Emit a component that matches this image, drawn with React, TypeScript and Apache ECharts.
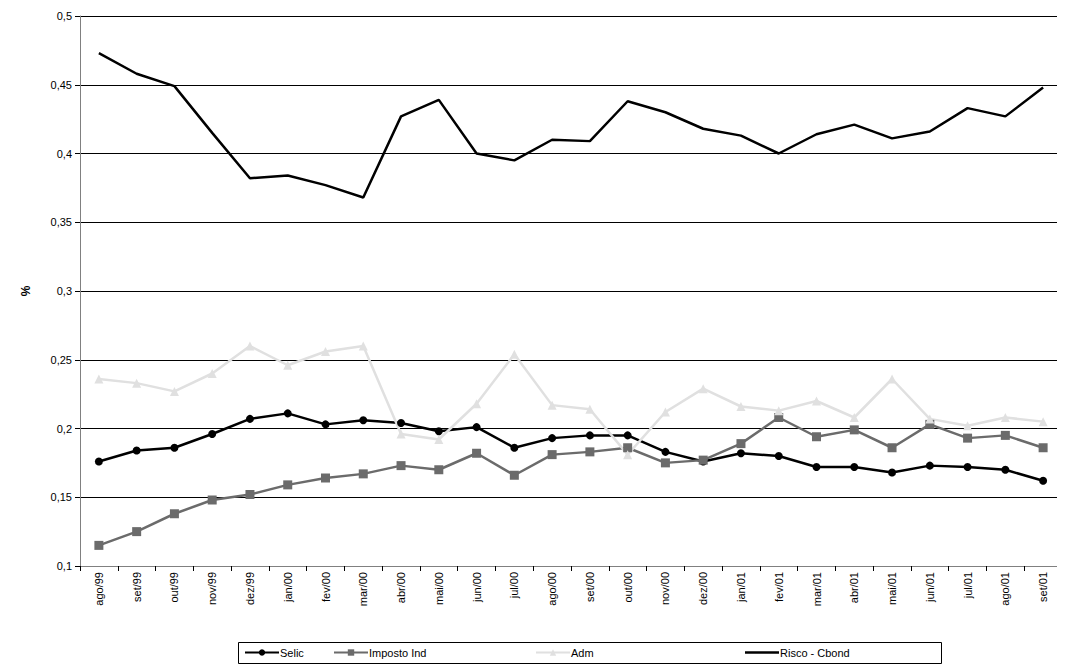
import * as echarts from "echarts";
import React, { useEffect, useRef } from "react";

const months = ["ago/99","set/99","out/99","nov/99","dez/99","jan/00","fev/00","mar/00","abr/00","mai/00","jun/00","jul/00","ago/00","set/00","out/00","nov/00","dez/00","jan/01","fev/01","mar/01","abr/01","mai/01","jun/01","jul/01","ago/01","set/01"];
const selic = [0.176,0.184,0.186,0.196,0.207,0.211,0.203,0.206,0.204,0.198,0.201,0.186,0.193,0.195,0.195,0.183,0.176,0.182,0.180,0.172,0.172,0.168,0.173,0.172,0.170,0.162];
const imposto = [0.115,0.125,0.138,0.148,0.152,0.159,0.164,0.167,0.173,0.170,0.182,0.166,0.181,0.183,0.186,0.175,0.177,0.189,0.208,0.194,0.199,0.186,0.203,0.193,0.195,0.186];
const adm = [0.236,0.233,0.227,0.240,0.260,0.246,0.256,0.260,0.196,0.192,0.218,0.254,0.217,0.214,0.181,0.212,0.229,0.216,0.213,0.220,0.208,0.236,0.207,0.202,0.208,0.205];
const risco = [0.473,0.458,0.449,0.415,0.382,0.384,0.377,0.368,0.427,0.439,0.400,0.395,0.410,0.409,0.438,0.430,0.418,0.413,0.400,0.414,0.421,0.411,0.416,0.433,0.427,0.448];
const seriesNames = ["Selic", "Imposto Ind", "Adm", "Risco - Cbond"];

const font = "Liberation Sans, Arial, sans-serif";
const legendLeft = [236, 325, 527, 737];

const App: React.FC = () => {
  const chartRef = useRef<HTMLDivElement | null>(null);

  useEffect(() => {
    if (!chartRef.current) return;
    const chart = echarts.init(chartRef.current, null, { renderer: "svg" });
    const line = (name: string, data: number[], color: string, symbol: string, size: number) => ({
      name,
      type: "line" as const,
      data,
      symbol,
      symbolSize: size,
      lineStyle: { color, width: 2.5 },
      itemStyle: { color },
    });
    chart.setOption({
      animation: false,
      textStyle: { fontFamily: font },
      grid: { left: 72, right: 0, top: 8, bottom: 98 },
      legend: seriesNames.map((n, i) => ({
        top: 639,
        left: legendLeft[i],
        itemWidth: 34,
        itemHeight: 8,
        itemGap: 2,
        padding: 0,
        textStyle: { fontSize: 11, color: "#000", fontFamily: font, padding: [0, 0, 0, -4] },
        data: [
          i === 3
            ? { name: n, icon: "path://M0,0 L34,0 L34,2.5 L0,2.5 Z", itemStyle: { color: "#000" } }
            : { name: n },
        ],
      })),
      graphic: [
        {
          type: "rect",
          shape: { x: 230.5, y: 634.5, width: 703, height: 21 },
          style: { fill: "none", stroke: "#000", lineWidth: 1 },
        },
      ],
      xAxis: {
        type: "category",
        data: months,
        boundaryGap: true,
        axisLine: { lineStyle: { color: "#808080" } },
        axisTick: { show: true, lineStyle: { color: "#000" } },
        axisLabel: { rotate: 90, fontSize: 11, color: "#000", interval: 0, margin: 6 },
      },
      yAxis: {
        type: "value",
        min: 0.1,
        max: 0.5,
        interval: 0.05,
        name: "%",
        nameLocation: "middle",
        nameGap: 48,
        nameTextStyle: { fontSize: 12, color: "#000", fontWeight: "bold" },
        axisLine: { show: true, lineStyle: { color: "#808080" } },
        axisTick: { show: true, lineStyle: { color: "#000" } },
        splitLine: { lineStyle: { color: "#000" } },
        axisLabel: {
          fontSize: 11,
          color: "#000",
          formatter: (v: number) => String(Math.round(v * 100) / 100).replace(".", ","),
        },
      },
      series: [
        line(seriesNames[0], selic, "#000000", "circle", 8),
        line(seriesNames[1], imposto, "#6b6b6b", "rect", 9),
        line(seriesNames[2], adm, "#e0e0e0", "triangle", 9),
        { ...line(seriesNames[3], risco, "#000000", "none", 0), showSymbol: false },
      ],
    });
    return () => chart.dispose();
  }, []);

  return <div ref={chartRef} style={{ width: 1054, height: 656 }} />;
};

export default App;
